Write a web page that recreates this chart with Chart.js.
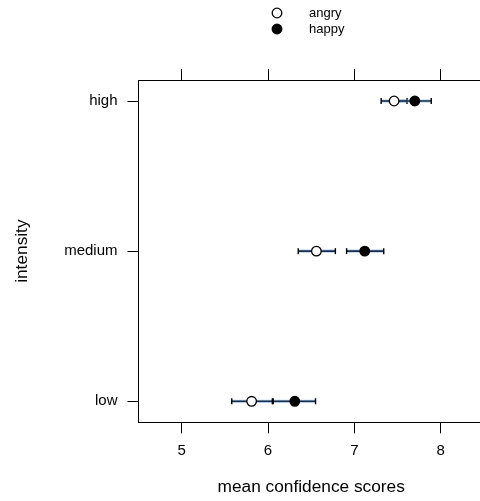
<!DOCTYPE html>
<html>
<head>
<meta charset="utf-8">
<script src="https://cdn.jsdelivr.net/npm/chart.js@4.4.0/dist/chart.umd.min.js"></script>
<style>
  html, body { margin: 0; padding: 0; background: #fff; overflow: hidden; }
  #wrap { width: 480px; height: 501px; overflow: hidden; }
</style>
</head>
<body>
<div id="wrap"><canvas id="dotChart" width="490" height="501"></canvas></div>
<script>
// Intensity levels, bottom to top
const levels = ['low', 'medium', 'high'];

// Mean confidence and interval bounds per emotion
const angryMean = [5.81, 6.56, 7.46];
const angryLower = [5.58, 6.35, 7.31];
const angryUpper = [6.05, 6.78, 7.61];

const happyMean = [6.31, 7.12, 7.70];
const happyLower = [6.06, 6.91, 7.50];
const happyUpper = [6.55, 7.34, 7.89];

const xTicks = [5, 6, 7, 8];

Chart.defaults.font.family = "'Liberation Sans', Arial, sans-serif";
Chart.defaults.color = '#000';

function toPoints(means) {
    return means.map((m, i) => ({ x: m, y: i + 1 }));
}

// Horizontal interval lines with end caps, drawn under the points
const errorBars = {
    id: 'errorBars',
    beforeDatasetsDraw(chart) {
        const { ctx, scales: { x, y } } = chart;
        chart.data.datasets.forEach(ds => {
            ds.lower.forEach((lo, i) => {
                const py = y.getPixelForValue(i + 1);
                const x0 = x.getPixelForValue(lo);
                const x1 = x.getPixelForValue(ds.upper[i]);
                ctx.save();
                ctx.lineCap = 'butt';
                ctx.strokeStyle = 'rgba(120,170,220,0.6)';
                ctx.lineWidth = 3.2;
                ctx.beginPath(); ctx.moveTo(x0, py); ctx.lineTo(x1, py); ctx.stroke();
                ctx.strokeStyle = '#1b3048';
                ctx.lineWidth = 1.6;
                ctx.beginPath(); ctx.moveTo(x0, py); ctx.lineTo(x1, py); ctx.stroke();
                ctx.strokeStyle = '#000';
                ctx.lineWidth = 1.4;
                [x0, x1].forEach(px => {
                    ctx.beginPath(); ctx.moveTo(px, py - 3); ctx.lineTo(px, py + 3); ctx.stroke();
                });
                ctx.restore();
            });
        });
    }
};

// Stacked key above the panel
const keyLegend = {
    id: 'keyLegend',
    afterDraw(chart) {
        const { ctx } = chart;
        ctx.save();
        ctx.font = "13px 'Liberation Sans', Arial, sans-serif";
        ctx.textBaseline = 'middle';
        ctx.textAlign = 'left';
        chart.data.datasets.forEach((ds, i) => {
            const cy = 13 + i * 16;
            ctx.beginPath();
            ctx.arc(277, cy, 4.8, 0, Math.PI * 2);
            ctx.fillStyle = ds.backgroundColor;
            ctx.fill();
            ctx.lineWidth = 1.3;
            ctx.strokeStyle = '#000';
            ctx.stroke();
            ctx.fillStyle = '#000';
            ctx.fillText(ds.label, 309, cy);
        });
        ctx.restore();
    }
};

const ctx = document.getElementById('dotChart').getContext('2d');
const dotChart = new Chart(ctx, {
    type: 'scatter',
    data: {
        datasets: [
            {
                label: 'angry',
                data: toPoints(angryMean),
                lower: angryLower,
                upper: angryUpper,
                backgroundColor: '#fff',
                borderColor: '#000',
                borderWidth: 1.3,
                pointRadius: 4.8
            },
            {
                label: 'happy',
                data: toPoints(happyMean),
                lower: happyLower,
                upper: happyUpper,
                backgroundColor: '#000',
                borderColor: '#000',
                borderWidth: 1.3,
                pointRadius: 4.8
            }
        ]
    },
    options: {
        responsive: false,
        animation: false,
        layout: { padding: { left: 0, right: 5, top: 0, bottom: 0 } },
        plugins: {
            legend: { display: false },
            tooltip: { enabled: false }
        },
        scales: {
            x: {
                type: 'linear',
                position: 'bottom',
                min: 4.5,
                max: 8.5,
                afterBuildTicks: scale => { scale.ticks = xTicks.map(v => ({ value: v })); },
                afterFit: scale => { scale.height = 78.7; },
                ticks: { padding: 9, font: { size: 15 }, color: '#000' },
                grid: { drawOnChartArea: false, tickLength: 11, color: '#000', lineWidth: 1 },
                border: { color: '#000', width: 1 },
                title: {
                    display: true,
                    text: 'mean confidence scores',
                    font: { size: 17.3 },
                    color: '#000',
                    padding: { top: 0, bottom: 3 }
                }
            },
            xTop: {
                type: 'linear',
                position: 'top',
                min: 4.5,
                max: 8.5,
                afterBuildTicks: scale => { scale.ticks = xTicks.map(v => ({ value: v })); },
                afterFit: scale => { scale.height = 80; },
                ticks: { display: false },
                grid: { drawOnChartArea: false, tickLength: 11, color: '#000', lineWidth: 1 },
                border: { color: '#000', width: 1 }
            },
            y: {
                type: 'linear',
                position: 'left',
                min: 0.86,
                max: 3.14,
                afterBuildTicks: scale => { scale.ticks = levels.map((_, i) => ({ value: i + 1 })); },
                afterFit: scale => { scale.width = 138.5; },
                ticks: {
                    padding: 10,
                    font: { size: 15 },
                    color: '#000',
                    callback: v => levels[v - 1]
                },
                grid: { drawOnChartArea: false, tickLength: 11, color: '#000', lineWidth: 1 },
                border: { color: '#000', width: 1 },
                title: {
                    display: true,
                    text: 'intensity',
                    font: { size: 17.3 },
                    color: '#000',
                    padding: { top: 12, bottom: 0 }
                }
            }
        }
    },
    plugins: [errorBars, keyLegend]
});
</script>
</body>
</html>
